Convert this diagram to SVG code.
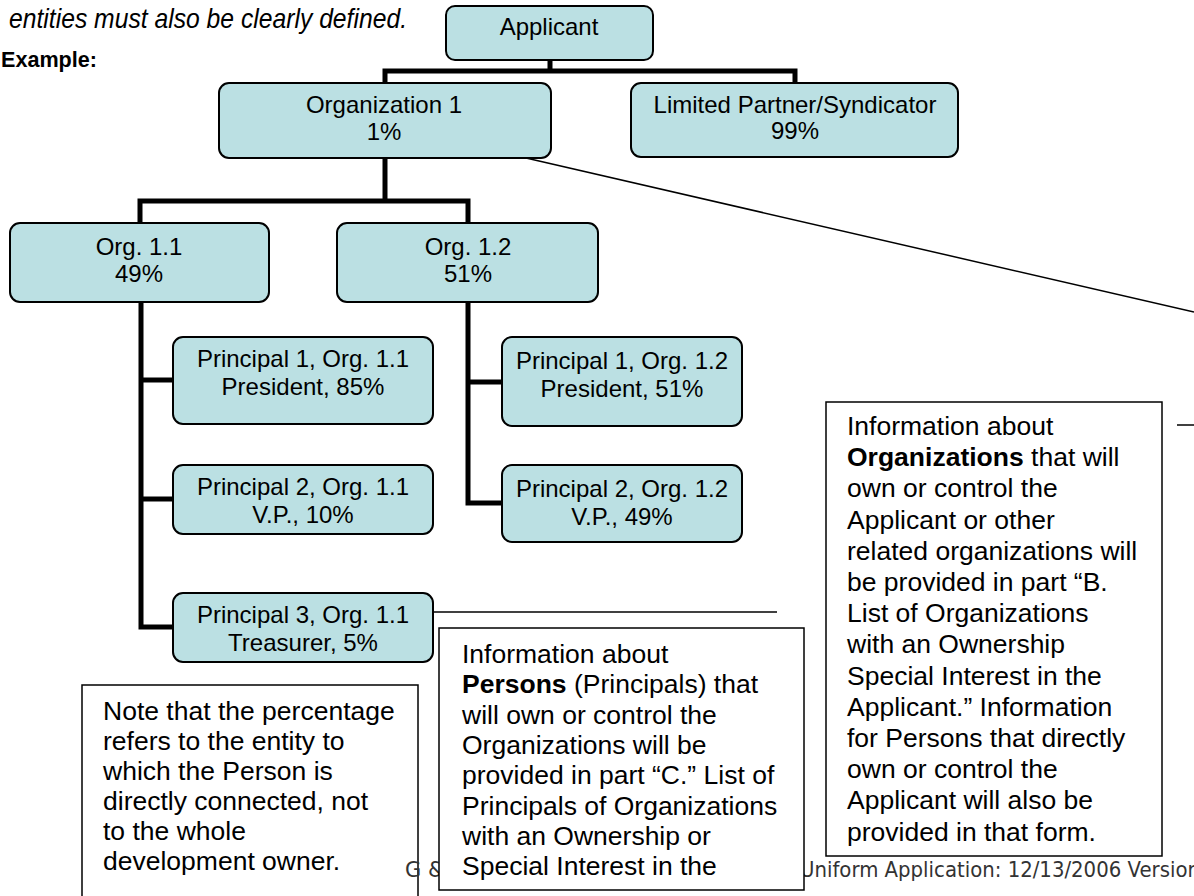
<svg xmlns="http://www.w3.org/2000/svg" width="1194" height="896" viewBox="0 0 1194 896">
<style>
.bg{fill:#fff}
.node rect{fill:#BBE0E3;stroke:#000;stroke-width:2}
.node text{font-family:"Liberation Sans",Arial,sans-serif;font-size:24px;text-anchor:middle;fill:#000}
.conn path{stroke:#000;stroke-width:5;fill:none;stroke-linejoin:miter;stroke-linecap:butt}
.thin line{stroke:#000;stroke-width:1.5}
.note rect{fill:#fff;stroke:#000;stroke-width:1.5}
.note text{font-family:"Liberation Sans",Arial,sans-serif;font-size:26.5px;fill:#000}
.b{font-weight:bold}
.footer{font-family:"DejaVu Sans","Liberation Sans",sans-serif;font-size:21px;fill:#333}
.head{font-family:"Liberation Sans",Arial,sans-serif;fill:#000}
</style>
<rect class="bg" x="0" y="0" width="1194" height="896"/>
<text class="head" x="9" y="28" font-size="27.5" font-style="italic" textLength="398" lengthAdjust="spacingAndGlyphs">entities must also be clearly defined.</text>
<text class="head" x="1" y="67" font-size="22" font-weight="bold" textLength="96" lengthAdjust="spacingAndGlyphs">Example:</text>

<g id="connectors" class="conn">
  <path d="M550,60 V71"/>
  <path d="M385,83 V71 H795 V83"/>
  <path d="M385,158 V201"/>
  <path d="M140,223 V201 H468 V223"/>
  <path d="M141,302 V627 H173"/>
  <path d="M141,380 H173"/>
  <path d="M141,499 H173"/>
  <path d="M468,302 V503 H502"/>
  <path d="M468,382 H502"/>
</g>

<g id="applicant" class="node">
  <rect x="446" y="6" width="207" height="54" rx="9"/>
  <text x="549" y="35">Applicant</text>
</g>
<g id="org1" class="node">
  <rect x="219" y="83" width="332" height="75" rx="10"/>
  <text x="384" y="113">Organization 1</text>
  <text x="384" y="140">1%</text>
</g>
<g id="lp" class="node">
  <rect x="631" y="83" width="327" height="74" rx="10"/>
  <text x="795" y="113">Limited Partner/Syndicator</text>
  <text x="795" y="139">99%</text>
</g>
<g id="org11" class="node">
  <rect x="10" y="223" width="259" height="79" rx="10"/>
  <text x="139" y="255">Org. 1.1</text>
  <text x="139" y="282">49%</text>
</g>
<g id="org12" class="node">
  <rect x="337" y="223" width="261" height="79" rx="10"/>
  <text x="468" y="255">Org. 1.2</text>
  <text x="468" y="282">51%</text>
</g>
<g id="p1o11" class="node">
  <rect x="173" y="337" width="260" height="87" rx="10"/>
  <text x="303" y="367">Principal 1, Org. 1.1</text>
  <text x="303" y="395">President, 85%</text>
</g>
<g id="p2o11" class="node">
  <rect x="173" y="465" width="260" height="69" rx="10"/>
  <text x="303" y="495">Principal 2, Org. 1.1</text>
  <text x="303" y="523">V.P., 10%</text>
</g>
<g id="p3o11" class="node">
  <rect x="173" y="593" width="260" height="69" rx="10"/>
  <text x="303" y="623">Principal 3, Org. 1.1</text>
  <text x="303" y="651">Treasurer, 5%</text>
</g>
<g id="p1o12" class="node">
  <rect x="502" y="337" width="240" height="89" rx="10"/>
  <text x="622" y="369">Principal 1, Org. 1.2</text>
  <text x="622" y="397">President, 51%</text>
</g>
<g id="p2o12" class="node">
  <rect x="502" y="465" width="240" height="77" rx="10"/>
  <text x="622" y="497">Principal 2, Org. 1.2</text>
  <text x="622" y="525">V.P., 49%</text>
</g>

<g id="callout-lines" class="thin">
  <line x1="526" y1="158" x2="1194" y2="312"/>
  <line x1="1177" y1="425" x2="1194" y2="425"/>
  <line x1="433" y1="612" x2="777" y2="612"/>
</g>

<g id="note-percentage" class="note">
  <rect x="82" y="685" width="336" height="220"/>
  <text x="103" y="720">Note that the percentage</text>
  <text x="103" y="750">refers to the entity to</text>
  <text x="103" y="780">which the Person is</text>
  <text x="103" y="810">directly connected, not</text>
  <text x="103" y="840">to the whole</text>
  <text x="103" y="870">development owner.</text>
</g>

<text class="footer" x="405" y="877">G &amp;</text>
<text class="footer" x="800" y="877" textLength="400" lengthAdjust="spacingAndGlyphs">Uniform Application: 12/13/2006 Version</text>

<g id="note-persons" class="note">
  <rect x="439" y="628" width="365" height="262"/>
  <text x="462" y="663">Information about</text>
  <text x="462" y="693.3"><tspan class="b">Persons</tspan> (Principals) that</text>
  <text x="462" y="723.6">will own or control the</text>
  <text x="462" y="753.9">Organizations will be</text>
  <text x="462" y="784.2">provided in part “C.” List of</text>
  <text x="462" y="814.5">Principals of Organizations</text>
  <text x="462" y="844.8">with an Ownership or</text>
  <text x="462" y="875.1">Special Interest in the</text>
</g>

<g id="note-organizations" class="note">
  <rect x="826" y="402" width="336" height="454"/>
  <text x="847" y="435">Information about</text>
  <text x="847" y="466.2"><tspan class="b">Organizations</tspan> that will</text>
  <text x="847" y="497.4">own or control the</text>
  <text x="847" y="528.6">Applicant or other</text>
  <text x="847" y="559.8">related organizations will</text>
  <text x="847" y="591">be provided in part “B.</text>
  <text x="847" y="622.2">List of Organizations</text>
  <text x="847" y="653.4">with an Ownership</text>
  <text x="847" y="684.6">Special Interest in the</text>
  <text x="847" y="715.8">Applicant.” Information</text>
  <text x="847" y="747">for Persons that directly</text>
  <text x="847" y="778.2">own or control the</text>
  <text x="847" y="809.4">Applicant will also be</text>
  <text x="847" y="840.6">provided in that form.</text>
</g>
</svg>
